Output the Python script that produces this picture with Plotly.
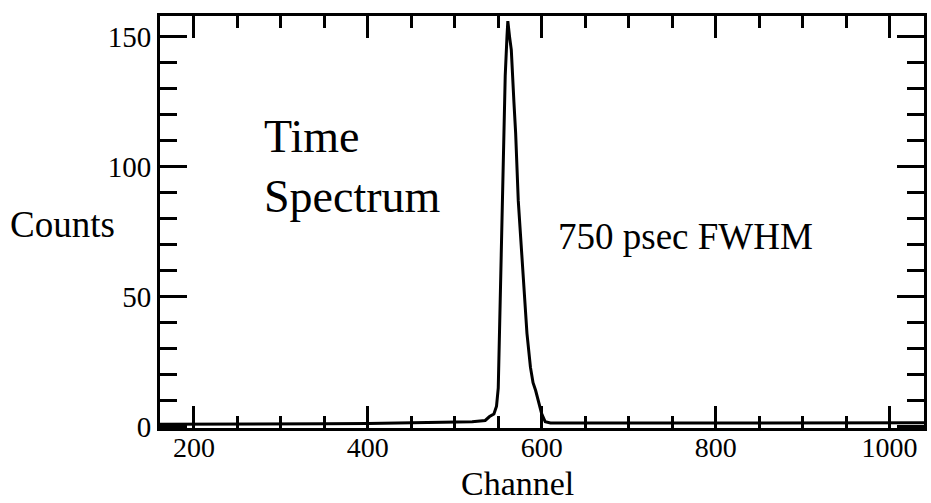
import plotly.graph_objects as go

# Data
channel = [160, 200, 250, 300, 350, 400, 450, 500, 520, 535, 540, 545, 548, 550,
           552, 554, 556, 558, 560, 561, 563, 565, 568, 570, 573, 576, 578, 580,
           583, 587, 590, 593, 596, 600, 604, 610, 650, 700, 750, 800, 850, 900,
           950, 1000, 1040]
counts = [1.0, 1.0, 1.0, 1.0, 1.2, 1.3, 1.5, 1.8, 2.0, 2.5, 4, 5, 8, 15,
          45, 75, 105, 135, 150, 156, 150, 145, 125, 113, 87, 72, 62, 50,
          36, 23, 17, 14, 10, 5, 2, 1.5, 1.5, 1.5, 1.5, 1.5, 1.6, 1.6,
          1.6, 1.6, 1.6]

x_ticks = [200, 400, 600, 800, 1000]
y_ticks = [0, 50, 100, 150]

serif = "Liberation Serif, Times New Roman, serif"

fig = go.Figure()
fig.add_trace(go.Scatter(x=channel, y=counts, mode="lines",
                         line=dict(color="black", width=3), showlegend=False))

fig.update_layout(
    width=931, height=503,
    margin=dict(l=160, r=4, t=16, b=75),
    paper_bgcolor="white", plot_bgcolor="white",
    font=dict(family=serif, color="black", size=29),
    xaxis=dict(range=[161, 1039.6], tickvals=x_ticks, ticks="inside", ticklen=22,
               tickwidth=3, tickcolor="black", showline=True, linewidth=3,
               linecolor="black", mirror="ticks", showgrid=False, zeroline=False,
               tickfont=dict(size=28), ticklabelstandoff=-8,
               minor=dict(dtick=50, tick0=0, ticks="inside", ticklen=12,
                          tickwidth=3, tickcolor="black", showgrid=False)),
    yaxis=dict(range=[-0.4, 158], tickvals=y_ticks, ticks="inside", ticklen=27,
               tickwidth=3, tickcolor="black", showline=True, linewidth=3,
               linecolor="black", mirror="ticks", showgrid=False, zeroline=False,
               tickfont=dict(size=29),
               minor=dict(dtick=10, tick0=0, ticks="inside", ticklen=17,
                          tickwidth=3, tickcolor="black", showgrid=False)),
)

fig.add_annotation(text="Counts", xref="paper", yref="paper", x=-0.056, y=0.493,
                   xanchor="right", yanchor="middle", showarrow=False,
                   font=dict(family=serif, size=37, color="black"))
fig.add_annotation(text="Channel", xref="paper", yref="paper", x=0.468, y=-0.135,
                   xanchor="center", yanchor="middle", showarrow=False, borderpad=0,
                   font=dict(family=serif, size=34, color="black"))
fig.add_annotation(text="Time<br>Spectrum", xref="paper", yref="paper", x=0.133, y=0.635,
                   xanchor="left", yanchor="middle", align="left", showarrow=False,
                   font=dict(family=serif, size=46, color="black"))
fig.add_annotation(text="750 psec FWHM", xref="paper", yref="paper", x=0.688, y=0.466,
                   xanchor="center", yanchor="middle", showarrow=False,
                   font=dict(family=serif, size=37, color="black"))

fig.write_html("out.html", config={"displayModeBar": False},
               post_script="document.body.style.margin='0px';")
